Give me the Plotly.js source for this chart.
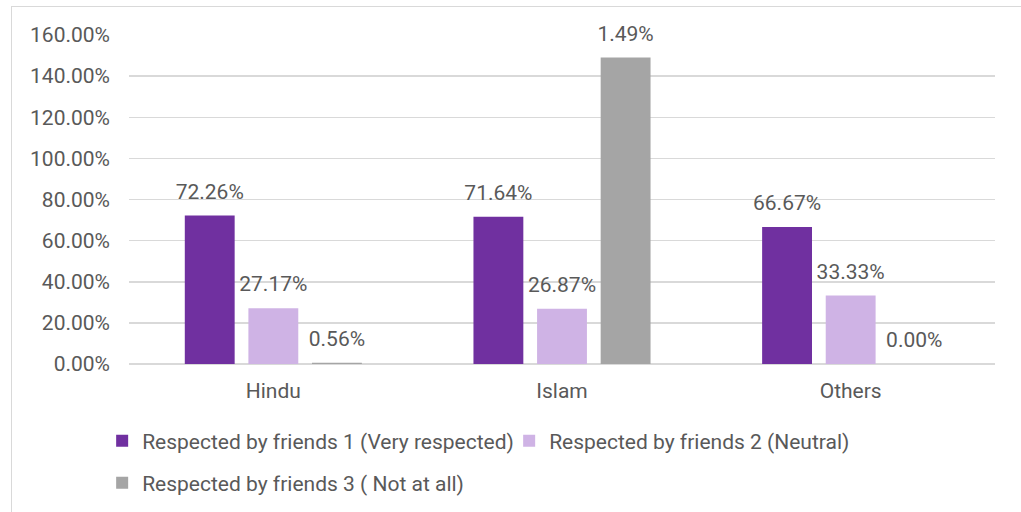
<!DOCTYPE html>
<html>
<head>
<meta charset="utf-8">
<script src="https://cdn.plot.ly/plotly-3.0.1.min.js"></script>
<style>
  html, body { margin: 0; padding: 0; background: #ffffff; overflow: hidden; }
  #frame { position: absolute; left: 11px; top: 6px; width: 1100px; height: 600px; border: 1px solid #d9d9d9; }
  #chart { position: absolute; left: 0; top: 0; width: 1021px; height: 512px; }
</style>
</head>
<body>
<div id="frame"></div>
<div id="chart"></div>
<script>
const categories = ["Hindu", "Islam", "Others"];
const seriesNames = [
  "Respected by friends 1 (Very respected)",
  "Respected by friends 2 (Neutral)",
  "Respected by friends 3 ( Not at all)"
];
const veryRespected = [72.26, 71.64, 66.67];
const neutral = [27.17, 26.87, 33.33];
const notAtAll = [0.56, 149, 0];
const veryRespectedLabels = ["72.26%", "71.64%", "66.67%"];
const neutralLabels = ["27.17%", "26.87%", "33.33%"];
const notAtAllLabels = ["0.56%", "1.49%", "0.00%"];
const colors = ["#7030A0", "#CFB3E5", "#A5A5A5"];

const textFont = {family: "Roboto, sans-serif", size: 21, color: "#595959"};
const GAP = 0.339;

function bar(name, y, color, legend) {
  return {
    type: "bar", name: name, x: categories, y: y,
    hoverinfo: "skip",
    marker: {color: color, line: {width: 0}},
    legend: legend
  };
}
function lbl(y, labels) {
  return {
    type: "scatter", mode: "markers+text", x: categories, y: y,
    text: labels, textposition: "top center", textfont: textFont,
    marker: {size: 17, color: "rgba(0,0,0,0)"},
    cliponaxis: false, hoverinfo: "skip", showlegend: false
  };
}

const data = [
  bar(seriesNames[0], veryRespected, colors[0], "legend"),
  bar(seriesNames[1], neutral, colors[1], "legend"),
  bar(seriesNames[2], notAtAll, colors[2], "legend2"),
  lbl(veryRespected, veryRespectedLabels),
  lbl(neutral, neutralLabels),
  lbl(notAtAll, notAtAllLabels)
];

const layout = {
  width: 1021, height: 512,
  margin: {l: 129, r: 26, t: 35, b: 148, autoexpand: false},
  paper_bgcolor: "rgba(0,0,0,0)",
  plot_bgcolor: "rgba(0,0,0,0)",
  font: textFont,
  barmode: "group",
  bargap: GAP,
  bargroupgap: 0.216,
  scattermode: "group",
  scattergap: GAP,
  xaxis: {
    showgrid: false, zeroline: false, showline: false, ticks: "",
    tickfont: textFont, ticklabelstandoff: 12, fixedrange: true
  },
  yaxis: {
    range: [0, 160], dtick: 20, tick0: 0,
    tickformat: ".2f", ticksuffix: "%",
    showgrid: true, gridcolor: "#D9D9D9", gridwidth: 1.5,
    zeroline: true, zerolinecolor: "#D9D9D9", zerolinewidth: 1.5,
    showline: false, ticks: "", tickfont: textFont, ticklabelstandoff: 18,
    fixedrange: true, automargin: false
  },
  showlegend: true,
  legend: {
    orientation: "h", x: -0.031, xanchor: "left", y: -0.234, yanchor: "middle",
    font: textFont, bgcolor: "rgba(0,0,0,0)", traceorder: "normal",
    entrywidth: 362, entrywidthmode: "pixels"
  },
  legend2: {
    orientation: "h", x: -0.031, xanchor: "left", y: -0.362, yanchor: "middle",
    font: textFont, bgcolor: "rgba(0,0,0,0)"
  }
};

Plotly.newPlot("chart", data, layout, {displayModeBar: false, staticPlot: true});
</script>
</body>
</html>
